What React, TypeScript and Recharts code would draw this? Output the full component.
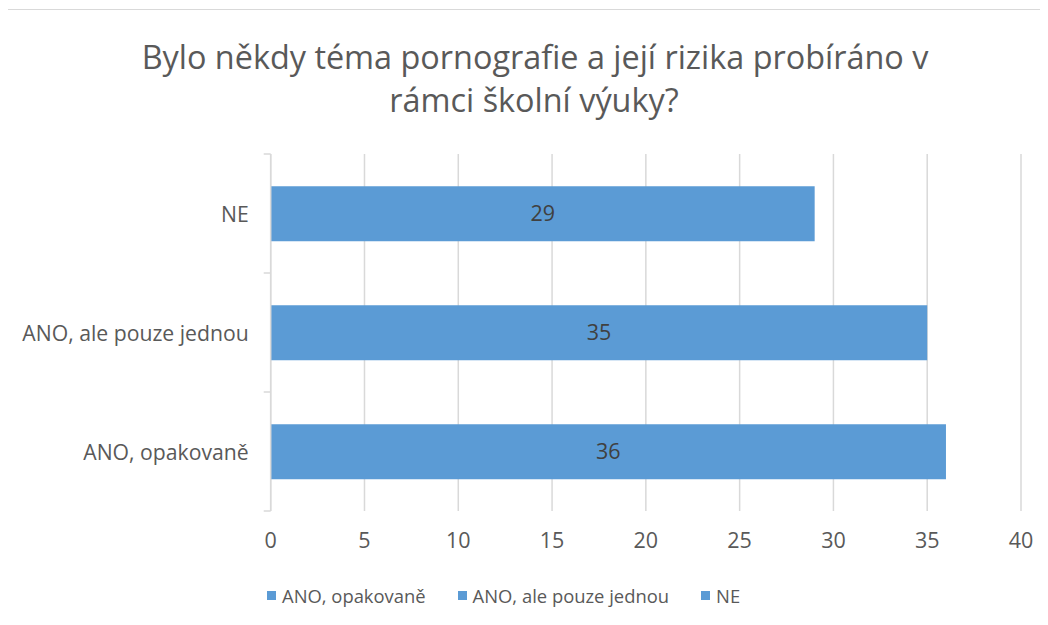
import React from "react";
import { BarChart, Bar, XAxis, YAxis, CartesianGrid, LabelList } from "recharts";

const categories = ["NE", "ANO, ale pouze jednou", "ANO, opakovaně"];
const values = [29, 35, 36];
const xTicks = [0, 5, 10, 15, 20, 25, 30, 35, 40];
const legendOrder = ["ANO, opakovaně", "ANO, ale pouze jednou", "NE"];
const titleLines = ["Bylo někdy téma pornografie a její rizika probíráno v", "rámci školní výuky?"];

const data = categories.map((c, i) => ({ name: c, value: values[i] }));

const FONT = "'Open Sans', Calibri, sans-serif";
const BLUE = "#5b9bd5";
const GRID = "#d9d9d9";
const TEXT = "#595959";

const CategoryTick = (props: any) => {
  const { x, y, payload, index, visibleTicksCount } = props;
  const off = payload && payload.offset ? payload.offset : 0;
  const last = index === (visibleTicksCount || categories.length) - 1;
  return (
    <g>
      <line x1={x - 7} x2={x} y1={y - off} y2={y - off} stroke={GRID} strokeWidth={1.5} />
      {last && <line x1={x - 7} x2={x} y1={y + off} y2={y + off} stroke={GRID} strokeWidth={1.5} />}
      <text x={x - 22} y={y} textAnchor="end" dominantBaseline="central" fill={TEXT} fontSize={21.2} fontFamily={FONT}>
        {payload.value}
      </text>
    </g>
  );
};

export default function App() {
  return (
    <div
      style={{
        position: "relative",
        left: -1,
        top: 1,
        width: 1041,
        height: 616,
        borderTop: `1px solid ${GRID}`,
        borderLeft: `1px solid ${GRID}`,
        boxSizing: "border-box",
        background: "#fff",
        fontFamily: FONT,
      }}
    >
      <div style={{ position: "absolute", left: 527, top: 24, transform: "translateX(-50%)", whiteSpace: "nowrap", fontSize: 32.4, lineHeight: "44px", color: TEXT }}>
        {titleLines[0]}
      </div>
      <div style={{ position: "absolute", left: 526, top: 67, transform: "translateX(-50%)", whiteSpace: "nowrap", fontSize: 32.4, lineHeight: "44px", color: TEXT }}>
        {titleLines[1]}
      </div>
      <div style={{ position: "absolute", left: 0, top: 0 }}>
        <BarChart
          width={1040}
          height={615}
          layout="vertical"
          data={data}
          margin={{ top: 144, right: 27, left: 0, bottom: 74 }}
          barCategoryGap="27%"
        >
          <CartesianGrid horizontal={false} stroke={GRID} strokeWidth={1.5} />
          <XAxis
            type="number"
            domain={[0, 40]}
            ticks={xTicks}
            interval={0}
            axisLine={false}
            tickLine={false}
            tickSize={0}
            tickMargin={22}
            height={40}
            tick={{ fill: TEXT, fontSize: 21.5, fontFamily: FONT }}
          />
          <YAxis
            type="category"
            dataKey="name"
            width={262.7}
            interval={0}
            axisLine={{ stroke: GRID, strokeWidth: 1.5 }}
            tickLine={false}
            tickSize={0}
            tickMargin={0}
            tick={<CategoryTick />}
          />
          <Bar dataKey="value" fill={BLUE} isAnimationActive={false}>
            <LabelList dataKey="value" position="center" fill="#404040" fontSize={21.5} fontFamily={FONT} />
          </Bar>
        </BarChart>
      </div>
      <div
        style={{
          position: "absolute",
          left: 259,
          top: 573,
          display: "flex",
          alignItems: "center",
          fontSize: 18.4,
          color: TEXT,
          whiteSpace: "nowrap",
        }}
      >
        {legendOrder.map((l) => (
          <div key={l} style={{ display: "flex", alignItems: "center", marginRight: l === "NE" ? 0 : 32 }}>
            <span style={{ display: "inline-block", width: 9, height: 9, background: BLUE, marginRight: 6 }} />
            <span>{l}</span>
          </div>
        ))}
      </div>
    </div>
  );
}
